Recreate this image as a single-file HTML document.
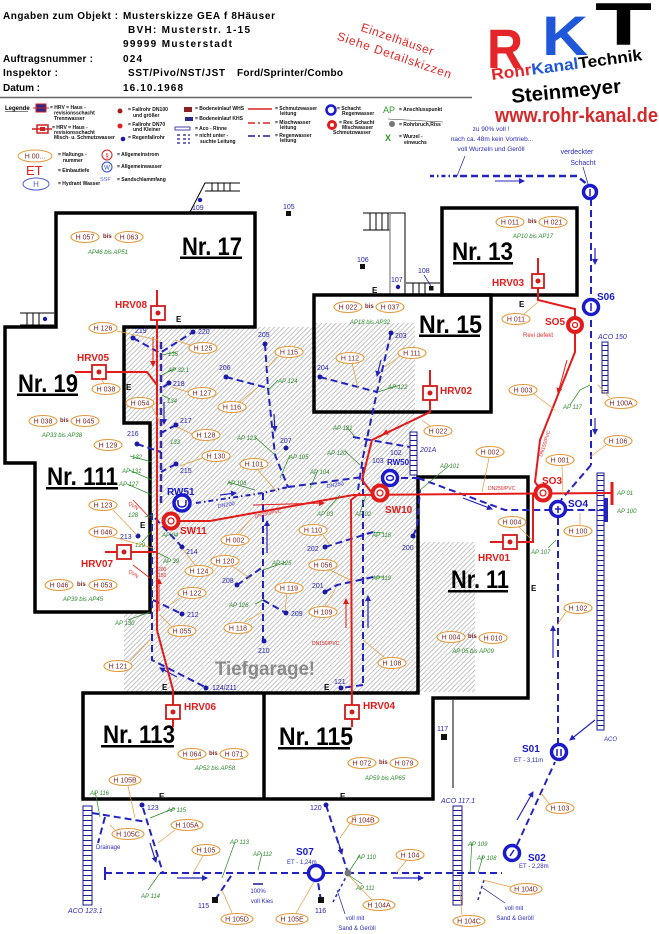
<!DOCTYPE html>
<html><head><meta charset="utf-8">
<style>
html,body{margin:0;padding:0;background:#fff;width:659px;height:934px;overflow:hidden}
svg{display:block}
text{font-family:"Liberation Sans",Arial,sans-serif}
.hd{font-size:10px;font-weight:bold;fill:#000}
.lg{font-size:5px;font-weight:bold;fill:#111}
.he{fill:#fff;stroke:#e39a3a;stroke-width:1.1}
.ht{font-size:7px;fill:#7a1f1f;text-anchor:middle}
.bis{font-size:6px;fill:#7a1f1f;font-weight:bold}
.ap{font-size:6px;fill:#2b8a2b;font-style:italic}
.apc{font-size:6px;fill:#2b8a2b;font-style:italic;text-anchor:middle}
.bn{font-size:7px;fill:#1f1fb5}
.e{font-size:8px;font-weight:bold;fill:#000}
.nr{font-size:25px;font-weight:bold;fill:#000}
.rl{font-size:10px;font-weight:bold;fill:#e21b1b}
.bl{font-size:10px;font-weight:bold;fill:#1a1acc}
.bd{fill:none;stroke:#2323c0;stroke-width:2;stroke-dasharray:7 4}
.rd{fill:none;stroke:#e21b1b;stroke-width:2}
.gl{stroke:#2b8a2b;stroke-width:0.7;fill:none}
.ol{stroke:#e39a3a;stroke-width:0.7;fill:none}
.bt{stroke:#2020a0;stroke-width:0.7;fill:none}
.dot{fill:#1a1aa8}
.bnote{font-size:6.5px;fill:#2a2ac0;text-anchor:middle}
.sm{font-size:5px;fill:#e21b1b}
</style></head><body>
<svg width="659" height="934" viewBox="0 0 659 934" xmlns="http://www.w3.org/2000/svg">
<defs>
<pattern id="hp" patternUnits="userSpaceOnUse" width="3.4" height="3.4" patternTransform="rotate(45)"><rect width="3.4" height="3.4" fill="#fff"/><line x1="0.5" y1="0" x2="0.5" y2="3.4" stroke="#b4b4b4" stroke-width="0.8"/></pattern>
<pattern id="rg" patternUnits="userSpaceOnUse" width="20" height="5"><rect width="20" height="5" fill="#fff"/><line x1="0" y1="0.5" x2="20" y2="0.5" stroke="#1a1a90" stroke-width="1"/></pattern>
<marker id="ab" markerWidth="6" markerHeight="6" refX="5" refY="3" orient="auto" markerUnits="userSpaceOnUse"><path d="M0,0 L6,3 L0,6 z" fill="#2323c0"/></marker>
<marker id="ar" markerWidth="6" markerHeight="6" refX="5" refY="3" orient="auto" markerUnits="userSpaceOnUse"><path d="M0,0 L6,3 L0,6 z" fill="#e21b1b"/></marker>
</defs>
<rect width="659" height="934" fill="#fff"/>

<!-- HEADER -->
<text class="hd" x="3" y="19" textLength="115">Angaben zum Objekt :</text>
<text class="hd" x="123" y="19" textLength="152">Musterskizze GEA f 8Häuser</text>
<text class="hd" x="128" y="33" textLength="122">BVH: Musterstr.  1-15</text>
<text class="hd" x="123" y="47" textLength="109">99999 Musterstadt</text>
<text class="hd" x="3" y="62" textLength="90">Auftragsnummer :</text>
<text class="hd" x="123" y="62" textLength="19">024</text>
<text class="hd" x="3" y="76" textLength="55">Inspektor :</text>
<text class="hd" x="128" y="76" textLength="97">SST/Pivo/NST/JST</text>
<text class="hd" x="237" y="76" textLength="106">Ford/Sprinter/Combo</text>
<text class="hd" x="3" y="91" textLength="37">Datum :</text>
<text class="hd" x="123" y="91" textLength="60">16.10.1968</text>
<line x1="0" y1="97.5" x2="472" y2="97.5" stroke="#666" stroke-width="1.5"/>

<!-- red rotated note -->
<text x="396" y="43" font-size="12" fill="#e02828" text-anchor="middle" textLength="76" transform="rotate(19 396 43)">Einzelhäuser</text>
<text x="393" y="59" font-size="12" fill="#e02828" text-anchor="middle" textLength="120" transform="rotate(19 393 59)">Siehe Detailskizzen</text>

<!-- LOGO -->
<text x="487" y="68" font-size="56" font-weight="bold" fill="#e4252a" textLength="36" lengthAdjust="spacingAndGlyphs">R</text>
<text x="542" y="55" font-size="56" font-weight="bold" fill="#2057d8" textLength="46" lengthAdjust="spacingAndGlyphs">K</text>
<text x="595" y="45" font-size="60" font-weight="bold" fill="#000" textLength="57" lengthAdjust="spacingAndGlyphs">T</text>
<text x="492" y="80" font-size="16" font-weight="bold" textLength="152" lengthAdjust="spacingAndGlyphs" transform="rotate(-7.5 492 80)"><tspan fill="#e4252a">Rohr</tspan><tspan fill="#2057d8">Kanal</tspan><tspan fill="#000">Technik</tspan></text>
<text x="512" y="103" font-size="20" font-weight="bold" fill="#000" textLength="110" lengthAdjust="spacingAndGlyphs" transform="rotate(-5.5 512 103)">Steinmeyer</text>
<text x="495" y="122" font-size="20" font-weight="bold" fill="#d42a2a" textLength="163" lengthAdjust="spacingAndGlyphs">www.rohr-kanal.de</text>

<!-- LEGEND -->
<text x="5" y="110" font-size="6" font-weight="bold">Legende</text>
<line x1="5" y1="111.5" x2="28" y2="111.5" stroke="#000" stroke-width="0.6"/>
<rect x="36" y="104" width="10" height="8" fill="#2a2a8a" stroke="#d02020" stroke-width="1"/>
<line x1="33" y1="108" x2="49" y2="108" stroke="#d02020" stroke-width="1"/>
<text class="lg" x="50" y="109">= HRV = Haus -</text>
<text class="lg" x="54" y="114.5">revisionsschacht</text>
<text class="lg" x="54" y="120">Trennwasser</text>
<rect x="37" y="125" width="11" height="8" fill="#fff" stroke="#d02020" stroke-width="1.5"/>
<rect x="40" y="127" width="5" height="4" fill="#d02020"/>
<line x1="32" y1="129" x2="52" y2="129" stroke="#d02020" stroke-width="1.5"/>
<text class="lg" x="52" y="129">= HRV = Haus -</text>
<text class="lg" x="54" y="134">revisionsschacht</text>
<text class="lg" x="54" y="139">Misch- u. Schmutzwasser</text>
<circle cx="120" cy="111" r="2.5" fill="#a02020"/>
<text class="lg" x="128" y="111">= Fallrohr DN100</text>
<text class="lg" x="133" y="117">und größer</text>
<circle cx="120" cy="126" r="2.5" fill="#e02020"/>
<text class="lg" x="128" y="126">= Fallrohr DN70</text>
<text class="lg" x="133" y="131">und Kleiner</text>
<circle cx="123" cy="139" r="2.3" fill="#1a1aa8"/>
<text class="lg" x="128" y="139">= Regenfallrohr</text>
<rect x="184" y="107" width="8" height="5" fill="#8a2020"/>
<text class="lg" x="195" y="110">= Bodeneinlauf WHS</text>
<rect x="185" y="117" width="8" height="4" fill="#2a2a8a"/>
<text class="lg" x="195" y="120">= Bodeneinlauf KHS</text>
<rect x="175" y="127" width="15" height="3" fill="none" stroke="#1a1a90" stroke-width="0.8"/>
<text class="lg" x="195" y="130">= Aco - Rinne</text>
<path d="M177,135 h3 M183,135 h3 M177,139 h3 M183,139 h3 M177,143 h3 M183,143 h3 M188,135 h2 M188,139 h2 M188,143 h2" stroke="#1a1a90" stroke-width="1.3"/>
<text class="lg" x="195" y="137">= nicht unter -</text>
<text class="lg" x="200" y="143">suchte Leitung</text>
<line x1="248" y1="109" x2="272" y2="109" stroke="#e02020" stroke-width="1.5"/>
<text class="lg" x="275" y="110">= Schmutzwasser</text>
<text class="lg" x="280" y="115">leitung</text>
<line x1="248" y1="123" x2="272" y2="123" stroke="#e02020" stroke-width="1.5" stroke-dasharray="7 3 2 3"/>
<text class="lg" x="275" y="124">= Mischwasser</text>
<text class="lg" x="280" y="129">leitung</text>
<line x1="248" y1="136" x2="272" y2="136" stroke="#1a1a90" stroke-width="1.5" stroke-dasharray="7 3 2 3"/>
<text class="lg" x="275" y="137">= Regenwasser</text>
<text class="lg" x="280" y="142">leitung</text>
<circle cx="331" cy="110" r="4.5" fill="#fff" stroke="#1a1acc" stroke-width="2.5"/>
<text class="lg" x="337" y="110">= Schacht</text>
<text class="lg" x="342" y="115">Regenwasser</text>
<circle cx="332" cy="125" r="5" fill="#e21b1b"/>
<circle cx="332" cy="125" r="2" fill="#fff"/>
<text class="lg" x="339" y="124">= Rev. Schacht</text>
<text class="lg" x="342" y="129">Mischwasser</text>
<text class="lg" x="333" y="134">Schmutzwasser</text>
<text x="383" y="113" font-size="9" fill="#2b9a2b">AP</text>
<text class="lg" x="399" y="111">= Anschlusspunkt</text>
<line x1="388" y1="119" x2="443" y2="122" stroke="#333" stroke-width="0.6"/>
<circle cx="392" cy="124" r="3" fill="#777"/>
<text class="lg" x="399" y="126">= Rohrbruch,Riss</text>
<text x="385" y="141" font-size="9" fill="#2b9a2b" font-weight="bold">X</text>
<text class="lg" x="399" y="138">= Wurzel -</text>
<text class="lg" x="404" y="144">einwuchs</text>

<ellipse cx="35" cy="156" rx="17" ry="6" fill="#fff" stroke="#e39a3a" stroke-width="1"/>
<text x="35" y="158.5" font-size="7" fill="#7a1f1f" text-anchor="middle">H 00...</text>
<text class="lg" x="58" y="156">= Haltungs -</text>
<text class="lg" x="63" y="162">nummer</text>
<text x="26" y="175" font-size="13" fill="#e02020">ET</text>
<text class="lg" x="58" y="172">= Einbautiefe</text>
<ellipse cx="36" cy="184" rx="13" ry="6" fill="#fff" stroke="#5060d0" stroke-width="1"/>
<text x="36" y="187" font-size="8" fill="#5060d0" text-anchor="middle">H</text>
<text class="lg" x="58" y="185">= Hydrant Wasser</text>
<circle cx="107" cy="155" r="5" fill="#fff" stroke="#d02020" stroke-width="1"/>
<text x="107" y="157.5" font-size="6" fill="#d02020" text-anchor="middle">§</text>
<text class="lg" x="117" y="156">= Allgemeinstrom</text>
<circle cx="107" cy="167" r="5" fill="#fff" stroke="#2a4ad0" stroke-width="1"/>
<text x="107" y="169.5" font-size="6" fill="#2a4ad0" text-anchor="middle">W</text>
<text class="lg" x="117" y="168">= Allgemeinwasser</text>
<text x="100" y="181" font-size="5.5" fill="#5a6ad8">SSF</text>
<text class="lg" x="117" y="181">= Sandschlammfang</text>

<!-- top right note -->
<text class="bnote" x="491" y="131">zu 90% voll !</text>
<text class="bnote" x="492" y="141">nach ca. 48m kein Vortrieb...</text>
<text class="bnote" x="491" y="151">voll Wurzeln und Geröll</text>
<text x="577" y="154" font-size="7" fill="#2a2ac0" text-anchor="middle">verdeckter</text>
<text x="583" y="165" font-size="7" fill="#2a2ac0" text-anchor="middle">Schacht</text>
<line x1="465" y1="156" x2="457" y2="176" class="bt"/>
<line x1="583" y1="167" x2="588" y2="184" class="bt"/>
<path d="M430,176 L460,176" stroke="#2323c0" stroke-width="2.5" stroke-dasharray="4 3 1.5 3" fill="none"/>
<path d="M460,176 L577,176 L588,185" stroke="#2323c0" stroke-width="2.5" stroke-dasharray="7 4" fill="none"/>
<line x1="495" y1="181" x2="524" y2="181" stroke="#2323c0" stroke-width="1" marker-end="url(#ab)"/>

<!-- STAIRS -->
<g fill="none" stroke="#000" stroke-width="1">
<path d="M190,212 L205,183 L240,183 M212,183 v8 M218,183 v8 M224,183 v8 M230,183 v8 M205,191 L240,191"/>
<path d="M20,313 L54,313 M20,325 L54,325 M27,313 v12 M33,313 v12 M39,313 v12"/>
<path d="M363,213 L405,213 L405,295 M363,230 L390,230 M370,213 v17 M376,213 v17 M382,213 v17 M388,213 v17"/>
<path d="M406,283 L440,283 M413,283 v12 M419,283 v12 M425,283 v12"/>
</g>
<line x1="390" y1="213" x2="390" y2="295" stroke="#999" stroke-width="1.5"/>
<circle cx="45" cy="319" r="2.2" class="dot"/>
<circle cx="200" cy="200" r="2.2" class="dot"/>
<text class="bn" x="192" y="210">109</text>
<text class="bn" x="283" y="209">105</text>
<rect x="286" y="211" width="5" height="5" fill="#111"/>
<text class="bn" x="357" y="262">106</text>
<rect x="360" y="264" width="5" height="5" fill="#111"/>
<text class="bn" x="391" y="282">107</text>
<circle cx="398" cy="287" r="2.2" class="dot"/>
<text class="bn" x="418" y="273">108</text>
<line x1="424" y1="275" x2="431" y2="286" class="bt"/>
<rect x="429" y="286" width="4.5" height="4.5" fill="#111"/>

<!-- HATCH -->
<path d="M124,327 L314,327 L314,323 L415,323 L415,477 L418,477 L418,692 L124,692 L124,612 L150,612 L150,423 L124,423 Z" fill="url(#hp)"/>
<rect x="419" y="542" width="56" height="150" fill="url(#hp)"/>

<!-- BUILDINGS -->
<g fill="none" stroke="#000" stroke-width="3.5">
<path d="M56,213 L255,213 L255,327 L124,327 L124,423 L150,423 L150,612 L35,612 L35,463 L5,463 L5,327 L56,327 Z"/>
<rect x="442" y="208" width="135" height="87"/>
<rect x="314" y="295" width="177" height="117"/>
<path d="M83,693 L418,693 L418,477 L528,477 L528,698 L433,698 L433,799 L83,799 Z"/>
<line x1="264" y1="693" x2="264" y2="799"/>
</g>
<line x1="453" y1="700" x2="453" y2="788" stroke="#000" stroke-width="1"/>

<!-- Nr texts -->
<text class="nr" x="182" y="255" textLength="60" lengthAdjust="spacingAndGlyphs">Nr. 17</text>
<rect x="180" y="256.5" width="62" height="2.5" fill="#000"/>
<text class="nr" x="18" y="392" textLength="60" lengthAdjust="spacingAndGlyphs">Nr. 19</text>
<rect x="17" y="393.5" width="61" height="2.5" fill="#000"/>
<text class="nr" x="47" y="485" font-size="24" textLength="71" lengthAdjust="spacingAndGlyphs">Nr. 111</text>
<rect x="46" y="487" width="72" height="2.5" fill="#000"/>
<text class="nr" x="452" y="260" textLength="61" lengthAdjust="spacingAndGlyphs">Nr. 13</text>
<rect x="453" y="262" width="60" height="2.5" fill="#000"/>
<text class="nr" x="419" y="333" textLength="63" lengthAdjust="spacingAndGlyphs">Nr. 15</text>
<rect x="419" y="334.5" width="61" height="2.5" fill="#000"/>
<text class="nr" x="451" y="588" font-size="23" textLength="58" lengthAdjust="spacingAndGlyphs">Nr. 11</text>
<rect x="448" y="590" width="60" height="2.5" fill="#000"/>
<text class="nr" x="103" y="743" font-size="23" textLength="72" lengthAdjust="spacingAndGlyphs">Nr. 113</text>
<rect x="101" y="745" width="73" height="2.5" fill="#000"/>
<text class="nr" x="279" y="745" font-size="23" textLength="74" lengthAdjust="spacingAndGlyphs">Nr. 115</text>
<rect x="278" y="747" width="72" height="2.5" fill="#000"/>
<text x="215" y="675" font-size="19" font-weight="bold" fill="#8a8a8a" textLength="100" lengthAdjust="spacingAndGlyphs">Tiefgarage!</text>

<!-- ACO rinnen -->
<g stroke="#1a1a90" stroke-width="1">
<rect x="597" y="473" width="7" height="257" fill="url(#rg)"/>
<rect x="602" y="342" width="6" height="51" fill="url(#rg)"/>
<rect x="410" y="432" width="7" height="43" fill="url(#rg)"/>
<rect x="453" y="806" width="9" height="99" fill="url(#rg)"/>
<rect x="83" y="806" width="9" height="99" fill="url(#rg)"/>
</g>
<text x="598" y="339" font-size="7" fill="#2a2ac0" font-style="italic">ACO 150</text>
<text x="604" y="741" font-size="6" fill="#2a2ac0" font-style="italic">ACO</text>
<text x="420" y="452" font-size="7" fill="#2a2ac0" font-style="italic">201A</text>
<text x="441" y="803" font-size="7" fill="#2a2ac0" font-style="italic">ACO 117.1</text>
<text x="68" y="913" font-size="7" fill="#2a2ac0" font-style="italic">ACO 123.1</text>
<text x="96" y="849" font-size="6" fill="#2a2ac0">Drainage</text>

<!-- BLUE PIPES -->
<g class="bd">
<line x1="591" y1="199" x2="591" y2="465"/>
<path d="M591,465 L561,500"/>
<line x1="558" y1="518" x2="558" y2="743"/>
<path d="M418,478 L505,510 L606,510"/>
<path d="M390,478 L418,478"/>
<line x1="161" y1="342" x2="161" y2="505" stroke="#3a2aa0" stroke-width="2.5"/>
<path d="M133,338 L160,353 L193,332"/>
<path d="M169,383 L161,389 M176,425 L161,433 M137,444 L161,452 M176,464 L161,472"/>
<path d="M265,344 L268,388 L275,455 L288,487 M226,377 L268,388"/>
<path d="M391,333 L377,392 L363,457 L358,490 M320,377 L377,392"/>
<path d="M353,437 L410,447"/>
<path d="M288,487 L363,477"/>
<line x1="363" y1="467" x2="363" y2="685"/>
<path d="M363,685 L341,688"/>
<path d="M325,547 L373,532 M325,592 L337,585 L373,577"/>
<line x1="263" y1="493" x2="263" y2="641"/>
<path d="M237,585 L263,567 M263,600 L286,613"/>
<path d="M152,513 L152,660 L207,688"/>
<path d="M153,600 L182,614 M155,518 L182,547"/>
<path d="M413,536 L417,527 L420,490"/>
<path d="M105,873 L502,873"/>
<path d="M143,808 L163,873 M92,813 L147,822 M105,817 L98,843"/>
<path d="M215,900 L233,873 M321,901 L318,882"/>
<path d="M326,805 L348,873"/>
<path d="M517,845 L555,762"/>
</g>
<path d="M196,503 L263,493 L288,487" stroke="#2323c0" stroke-width="2" stroke-dasharray="5 3 1.5 3" fill="none"/>
<path d="M348,873 L333,902 M484,880 L477,903" stroke="#2323c0" stroke-width="1.5" stroke-dasharray="3 3" fill="none"/>
<line x1="105" y1="867" x2="105" y2="880" stroke="#2323c0" stroke-width="2"/>
<rect x="604" y="498" width="4" height="24" fill="#2323c0"/>
<g stroke="#2323c0" stroke-width="1.2" fill="none" marker-end="url(#ab)">
<line x1="164" y1="402" x2="164" y2="424"/>
<line x1="274" y1="414" x2="275" y2="431"/>
<line x1="381" y1="360" x2="377" y2="376"/>
<line x1="595" y1="248" x2="595" y2="264"/>
<line x1="595" y1="418" x2="595" y2="434"/>
<line x1="463" y1="498" x2="492" y2="509"/>
<line x1="553" y1="658" x2="553" y2="626"/>
<line x1="368" y1="628" x2="368" y2="596"/>
<line x1="267" y1="553" x2="267" y2="521"/>
<line x1="177" y1="677" x2="160" y2="668"/>
<line x1="220" y1="495" x2="236" y2="493"/>
<line x1="150" y1="843" x2="156" y2="862"/>
<line x1="177" y1="878" x2="207" y2="878"/>
<line x1="337" y1="838" x2="342" y2="854"/>
<line x1="393" y1="878" x2="423" y2="878"/>
<line x1="517" y1="820" x2="533" y2="792"/>
<line x1="595" y1="720" x2="570" y2="740"/>
</g>
<text x="218" y="508" font-size="5.5" fill="#2a2ac0" transform="rotate(-10 218 508)">DN200</text>
<text x="327" y="488" font-size="5.5" fill="#2a2ac0" transform="rotate(-10 327 488)">DN250</text>

<!-- RED PIPES -->
<g class="rd">
<path d="M157,290 L157,630 L173,690 L173,727"/>
<path d="M75,372 L147,372 L157,385"/>
<path d="M105,552 L157,552"/>
<path d="M171,521 L210,521 L353,495 L612,493"/>
<path d="M430,370 L430,412 L372,440 L362,480 L372,493"/>
<path d="M538,258 L538,300 L575,309 L575,352 L540,440 L535,482 L543,493"/>
<path d="M490,542 L533,542 L533,493"/>
<path d="M352,727 L351,500 L360,493"/>
</g>
<line x1="612" y1="482" x2="612" y2="505" stroke="#e21b1b" stroke-width="3"/>
<g stroke="#e21b1b" stroke-width="1" fill="none" marker-end="url(#ar)">
<line x1="153" y1="337" x2="153" y2="366"/>
<line x1="567" y1="360" x2="558" y2="393"/>
<line x1="253" y1="505" x2="324" y2="503"/>
<line x1="159" y1="611" x2="159" y2="579"/>
<line x1="346" y1="628" x2="346" y2="599"/>
<line x1="412" y1="421" x2="383" y2="434"/>
</g>
<path d="M133,500 L150,518 M133,565 L150,578" stroke="#e21b1b" stroke-width="0.8" fill="none"/>
<text class="sm" x="255" y="518" transform="rotate(-12 255 518)">DN250/PVC</text>
<text class="sm" x="488" y="490">DN250/PVC</text>
<text class="sm" x="542" y="457" transform="rotate(-72 542 457)">DN150/PVC</text>
<text class="sm" x="312" y="645">DN150/PVC</text>
<text class="sm" x="128" y="504" transform="rotate(35 128 504)">QVN</text>
<text class="sm" x="128" y="572" transform="rotate(35 128 572)">QVN</text>
<text class="sm" x="158" y="571" font-size="4">200</text>
<text class="sm" x="158" y="577" font-size="4">150</text>
<text x="523" y="337" font-size="6" fill="#e03030">Revi defekt</text>

<!-- HRV boxes -->
<g fill="#fff" stroke="#d21b1b" stroke-width="1.8">
<rect x="151" y="306" width="14" height="14"/>
<rect x="92" y="365" width="14" height="14"/>
<rect x="117" y="545" width="14" height="14"/>
<rect x="166" y="705" width="14" height="14"/>
<rect x="345" y="705" width="14" height="14"/>
<rect x="503" y="535" width="14" height="14"/>
<rect x="423" y="386" width="14" height="14"/>
<rect x="532" y="274" width="12" height="14"/>
</g>
<g fill="#d21b1b">
<circle cx="158" cy="313" r="2.5"/><circle cx="99" cy="372" r="2.5"/><circle cx="124" cy="552" r="2.5"/>
<circle cx="173" cy="712" r="2.5"/><circle cx="352" cy="712" r="2.5"/><circle cx="510" cy="542" r="2.5"/>
<circle cx="430" cy="393" r="2.5"/><circle cx="538" cy="281" r="2.5"/>
</g>
<text class="rl" x="115" y="308">HRV08</text>
<text class="rl" x="77" y="361">HRV05</text>
<text class="rl" x="81" y="567">HRV07</text>
<text class="rl" x="184" y="710">HRV06</text>
<text class="rl" x="363" y="709">HRV04</text>
<text class="rl" x="478" y="561">HRV01</text>
<text class="rl" x="440" y="394">HRV02</text>
<text class="rl" x="492" y="286">HRV03</text>

<!-- Manholes -->
<g fill="#fff" stroke="#1a1acc" stroke-width="3.5">
<circle cx="590" cy="192" r="6.5"/>
<circle cx="591" cy="307" r="7.5"/>
<circle cx="182" cy="503" r="8"/>
<circle cx="390" cy="478" r="7.5"/>
<circle cx="558" cy="509" r="7.5"/>
<circle cx="559" cy="752" r="7.5"/>
<circle cx="512" cy="853" r="7.5"/>
<circle cx="316" cy="873" r="7.5"/>
</g>
<g stroke="#1a1acc" stroke-width="1.5" fill="none">
<line x1="590" y1="189" x2="590" y2="196"/>
<line x1="591" y1="303" x2="591" y2="311"/>
<path d="M178,500 v4 a4,3 0 0 0 8,0 v-4"/>
<ellipse cx="390" cy="478" rx="3.5" ry="2.5"/>
<path d="M555,509 h6 M558,506 v7"/>
<path d="M557,749 v7 M561,749 v7"/>
<line x1="510" y1="856" x2="514" y2="850"/>
</g>
<g fill="#fff" stroke="#e21b1b" stroke-width="4">
<circle cx="171" cy="521" r="7.5"/>
<circle cx="380" cy="493" r="7.5"/>
<circle cx="543" cy="493" r="7.5"/>
<circle cx="575" cy="325" r="7"/>
</g>
<g fill="none" stroke="#e21b1b" stroke-width="1.3">
<circle cx="171" cy="521" r="3"/><circle cx="380" cy="493" r="3"/><circle cx="543" cy="493" r="3"/><circle cx="575" cy="325" r="2.5"/>
</g>
<circle cx="348" cy="873" r="3.5" fill="#777"/>
<text class="bl" x="597" y="300">S06</text>
<text class="rl" x="545" y="325">SO5</text>
<text class="rl" x="542" y="484">SO3</text>
<text class="bl" x="568" y="507">SO4</text>
<text class="bl" x="522" y="752">S01</text>
<text class="bl" x="528" y="861">S02</text>
<text class="bl" x="296" y="855">S07</text>
<text class="rl" x="385" y="513">SW10</text>
<text class="rl" x="180" y="534">SW11</text>
<text class="bl" x="167" y="495">RW51</text>
<text x="387" y="465" font-size="8" font-weight="bold" fill="#1a1acc">RW50</text>
<text x="514" y="762" font-size="6" fill="#2a2ac0">ET - 3,11m</text>
<text x="519" y="868" font-size="6" fill="#2a2ac0">ET - 2,28m</text>
<text x="287" y="864" font-size="6" fill="#2a2ac0">ET - 1,24m</text>

<!-- dots & numbers -->
<g class="dot">
<circle cx="133" cy="338" r="2.5"/><circle cx="193" cy="332" r="2.5"/><circle cx="265" cy="344" r="2.5"/>
<circle cx="226" cy="377" r="2.5"/><circle cx="169" cy="383" r="2.5"/><circle cx="176" cy="425" r="2.5"/>
<circle cx="137" cy="444" r="2.5"/><circle cx="176" cy="464" r="2.5"/><circle cx="138" cy="536" r="2.5"/>
<circle cx="182" cy="547" r="2.5"/><circle cx="182" cy="614" r="2.5"/><circle cx="237" cy="585" r="2.5"/>
<circle cx="286" cy="613" r="2.5"/><circle cx="264" cy="641" r="2.5"/><circle cx="325" cy="547" r="2.5"/>
<circle cx="325" cy="592" r="2.5"/><circle cx="341" cy="688" r="2.5"/><circle cx="206" cy="688" r="2.5"/>
<circle cx="413" cy="536" r="2.5"/><circle cx="142" cy="805" r="2.5"/><circle cx="326" cy="805" r="2.5"/>
<circle cx="286" cy="448" r="2.5"/><circle cx="391" cy="333" r="2.5"/><circle cx="320" cy="377" r="2.5"/>
</g>
<rect x="212" y="897" width="6" height="6" fill="#111"/>
<rect x="318" y="897" width="6" height="6" fill="#111"/>
<rect x="441" y="734" width="6" height="6" fill="#111"/>
<text class="bn" x="135" y="333">219</text><text class="bn" x="198" y="334">220</text>
<text class="bn" x="258" y="337">205</text><text class="bn" x="219" y="370">206</text>
<text class="bn" x="173" y="386">218</text><text class="bn" x="180" y="423">217</text>
<text class="bn" x="127" y="436">216</text><text class="bn" x="180" y="473">215</text>
<text class="bn" x="120" y="539">213</text><text class="bn" x="186" y="554">214</text>
<text class="bn" x="187" y="617">212</text><text class="bn" x="222" y="583">208</text>
<text class="bn" x="291" y="616">209</text><text class="bn" x="258" y="653">210</text>
<text class="bn" x="307" y="551">202</text><text class="bn" x="312" y="588">201</text>
<text class="bn" x="334" y="684">121</text><text class="bn" x="212" y="690">124/211</text>
<text class="bn" x="402" y="550">200</text><text class="bn" x="147" y="810">123</text>
<text class="bn" x="310" y="810">120</text><text class="bn" x="198" y="908">115</text>
<text class="bn" x="315" y="913">116</text><text class="bn" x="437" y="731">117</text>
<text class="bn" x="280" y="443">207</text><text class="bn" x="395" y="338">203</text>
<text class="bn" x="317" y="370">204</text>
<text class="bn" x="390" y="455" font-size="6">102</text><text class="bn" x="372" y="463" font-size="6">103</text>

<!-- E labels -->
<text class="e" x="176" y="322">E</text><text class="e" x="126" y="390">E</text>
<text class="e" x="140" y="528">E</text><text class="e" x="372" y="293">E</text>
<text class="e" x="519" y="307">E</text><text class="e" x="531" y="591">E</text>
<text class="e" x="162" y="690">E</text><text class="e" x="324" y="690">E</text>
<text class="e" x="159" y="799">E</text><text class="e" x="340" y="799">E</text>

<!-- H labels -->
<g>
<ellipse class="he" cx="85" cy="237" rx="14" ry="5.5"/><text class="ht" x="85" y="239.5">H 057</text>
<text class="bis" x="103" y="238">bis</text>
<ellipse class="he" cx="129" cy="237" rx="14" ry="5.5"/><text class="ht" x="129" y="239.5">H 063</text>
<ellipse class="he" cx="103" cy="328" rx="14" ry="5.5"/><text class="ht" x="103" y="330.5">H 126</text>
<ellipse class="he" cx="203" cy="348" rx="14" ry="5.5"/><text class="ht" x="203" y="350.5">H 125</text>
<ellipse class="he" cx="106" cy="389" rx="14" ry="5.5"/><text class="ht" x="106" y="391.5">H 038</text>
<ellipse class="he" cx="140" cy="403" rx="14" ry="5.5"/><text class="ht" x="140" y="405.5">H 054</text>
<ellipse class="he" cx="202" cy="393" rx="14" ry="5.5"/><text class="ht" x="202" y="395.5">H 127</text>
<ellipse class="he" cx="232" cy="407" rx="14" ry="5.5"/><text class="ht" x="232" y="409.5">H 116</text>
<ellipse class="he" cx="289" cy="352" rx="14" ry="5.5"/><text class="ht" x="289" y="354.5">H 115</text>
<ellipse class="he" cx="206" cy="435" rx="14" ry="5.5"/><text class="ht" x="206" y="437.5">H 128</text>
<ellipse class="he" cx="43" cy="421" rx="14" ry="5.5"/><text class="ht" x="43" y="423.5">H 038</text>
<text class="bis" x="60" y="422">bis</text>
<ellipse class="he" cx="85" cy="421" rx="14" ry="5.5"/><text class="ht" x="85" y="423.5">H 045</text>
<ellipse class="he" cx="108" cy="445" rx="14" ry="5.5"/><text class="ht" x="108" y="447.5">H 129</text>
<ellipse class="he" cx="216" cy="456" rx="14" ry="5.5"/><text class="ht" x="216" y="458.5">H 130</text>
<ellipse class="he" cx="254" cy="464" rx="14" ry="5.5"/><text class="ht" x="254" y="466.5">H 101</text>
<ellipse class="he" cx="103" cy="505" rx="14" ry="5.5"/><text class="ht" x="103" y="507.5">H 123</text>
<ellipse class="he" cx="103" cy="532" rx="14" ry="5.5"/><text class="ht" x="103" y="534.5">H 046</text>
<ellipse class="he" cx="235" cy="540" rx="14" ry="5.5"/><text class="ht" x="235" y="542.5">H 002</text>
<ellipse class="he" cx="225" cy="561" rx="14" ry="5.5"/><text class="ht" x="225" y="563.5">H 120</text>
<ellipse class="he" cx="199" cy="571" rx="14" ry="5.5"/><text class="ht" x="199" y="573.5">H 124</text>
<ellipse class="he" cx="192" cy="593" rx="14" ry="5.5"/><text class="ht" x="192" y="595.5">H 122</text>
<ellipse class="he" cx="182" cy="631" rx="14" ry="5.5"/><text class="ht" x="182" y="633.5">H 055</text>
<ellipse class="he" cx="238" cy="628" rx="14" ry="5.5"/><text class="ht" x="238" y="630.5">H 118</text>
<ellipse class="he" cx="289" cy="588" rx="14" ry="5.5"/><text class="ht" x="289" y="590.5">H 119</text>
<ellipse class="he" cx="313" cy="530" rx="14" ry="5.5"/><text class="ht" x="313" y="532.5">H 110</text>
<ellipse class="he" cx="323" cy="565" rx="14" ry="5.5"/><text class="ht" x="323" y="567.5">H 056</text>
<ellipse class="he" cx="323" cy="612" rx="14" ry="5.5"/><text class="ht" x="323" y="614.5">H 109</text>
<ellipse class="he" cx="392" cy="663" rx="14" ry="5.5"/><text class="ht" x="392" y="665.5">H 108</text>
<ellipse class="he" cx="118" cy="666" rx="14" ry="5.5"/><text class="ht" x="118" y="668.5">H 121</text>
<ellipse class="he" cx="59" cy="585" rx="14" ry="5.5"/><text class="ht" x="59" y="587.5">H 046</text>
<text class="bis" x="77" y="586">bis</text>
<ellipse class="he" cx="103" cy="585" rx="14" ry="5.5"/><text class="ht" x="103" y="587.5">H 053</text>
<ellipse class="he" cx="350" cy="358" rx="14" ry="5.5"/><text class="ht" x="350" y="360.5">H 112</text>
<ellipse class="he" cx="412" cy="353" rx="14" ry="5.5"/><text class="ht" x="412" y="355.5">H 111</text>
<ellipse class="he" cx="348" cy="307" rx="14" ry="5.5"/><text class="ht" x="348" y="309.5">H 022</text>
<text class="bis" x="365" y="308">bis</text>
<ellipse class="he" cx="390" cy="307" rx="14" ry="5.5"/><text class="ht" x="390" y="309.5">H 037</text>
<ellipse class="he" cx="510" cy="222" rx="14" ry="5.5"/><text class="ht" x="510" y="224.5">H 011</text>
<text class="bis" x="528" y="223">bis</text>
<ellipse class="he" cx="553" cy="222" rx="14" ry="5.5"/><text class="ht" x="553" y="224.5">H 021</text>
<ellipse class="he" cx="516" cy="319" rx="14" ry="5.5"/><text class="ht" x="516" y="321.5">H 011</text>
<ellipse class="he" cx="523" cy="390" rx="14" ry="5.5"/><text class="ht" x="523" y="392.5">H 003</text>
<ellipse class="he" cx="621" cy="403" rx="16" ry="5.5"/><text class="ht" x="621" y="405.5">H 100A</text>
<ellipse class="he" cx="618" cy="441" rx="14" ry="5.5"/><text class="ht" x="618" y="443.5">H 106</text>
<ellipse class="he" cx="438" cy="431" rx="14" ry="5.5"/><text class="ht" x="438" y="433.5">H 022</text>
<ellipse class="he" cx="490" cy="452" rx="14" ry="5.5"/><text class="ht" x="490" y="454.5">H 002</text>
<ellipse class="he" cx="560" cy="460" rx="14" ry="5.5"/><text class="ht" x="560" y="462.5">H 001</text>
<ellipse class="he" cx="512" cy="522" rx="14" ry="5.5"/><text class="ht" x="512" y="524.5">H 004</text>
<ellipse class="he" cx="578" cy="531" rx="14" ry="5.5"/><text class="ht" x="578" y="533.5">H 100</text>
<ellipse class="he" cx="578" cy="608" rx="14" ry="5.5"/><text class="ht" x="578" y="610.5">H 102</text>
<ellipse class="he" cx="451" cy="637" rx="14" ry="5.5"/><text class="ht" x="451" y="639.5">H 004</text>
<text class="bis" x="468" y="638">bis</text>
<ellipse class="he" cx="493" cy="638" rx="14" ry="5.5"/><text class="ht" x="493" y="640.5">H 010</text>
<ellipse class="he" cx="192" cy="754" rx="14" ry="5.5"/><text class="ht" x="192" y="756.5">H 064</text>
<text class="bis" x="209" y="755">bis</text>
<ellipse class="he" cx="234" cy="754" rx="14" ry="5.5"/><text class="ht" x="234" y="756.5">H 071</text>
<ellipse class="he" cx="362" cy="763" rx="14" ry="5.5"/><text class="ht" x="362" y="765.5">H 072</text>
<text class="bis" x="379" y="764">bis</text>
<ellipse class="he" cx="404" cy="763" rx="14" ry="5.5"/><text class="ht" x="404" y="765.5">H 079</text>
<ellipse class="he" cx="125" cy="780" rx="16" ry="5.5"/><text class="ht" x="125" y="782.5">H 105B</text>
<ellipse class="he" cx="128" cy="834" rx="16" ry="5.5"/><text class="ht" x="128" y="836.5">H 105C</text>
<ellipse class="he" cx="187" cy="825" rx="16" ry="5.5"/><text class="ht" x="187" y="827.5">H 105A</text>
<ellipse class="he" cx="206" cy="850" rx="14" ry="5.5"/><text class="ht" x="206" y="852.5">H 105</text>
<ellipse class="he" cx="237" cy="919" rx="16" ry="5.5"/><text class="ht" x="237" y="921.5">H 105D</text>
<ellipse class="he" cx="292" cy="919" rx="16" ry="5.5"/><text class="ht" x="292" y="921.5">H 105E</text>
<ellipse class="he" cx="363" cy="820" rx="16" ry="5.5"/><text class="ht" x="363" y="822.5">H 104B</text>
<ellipse class="he" cx="410" cy="855" rx="14" ry="5.5"/><text class="ht" x="410" y="857.5">H 104</text>
<ellipse class="he" cx="379" cy="905" rx="16" ry="5.5"/><text class="ht" x="379" y="907.5">H 104A</text>
<ellipse class="he" cx="469" cy="921" rx="16" ry="5.5"/><text class="ht" x="469" y="923.5">H 104C</text>
<ellipse class="he" cx="526" cy="889" rx="16" ry="5.5"/><text class="ht" x="526" y="891.5">H 104D</text>
<ellipse class="he" cx="560" cy="808" rx="14" ry="5.5"/><text class="ht" x="560" y="810.5">H 103</text>
</g>

<!-- orange leaders -->
<path class="ol" d="M117,331 L158,340 M190,345 L175,340 M104,383 L100,378 M152,407 L160,423 M188,392 L172,387 M240,402 L258,387 M277,357 L267,368 M192,434 L177,427 M202,458 L180,466 M257,469 L277,492 M113,510 L137,535 M113,537 L153,548 M238,534 L253,517 M232,566 L250,578 M195,565 L183,549 M180,598 L170,605 M172,627 L160,615 M245,622 L262,612 M287,594 L285,610 M323,535 L330,545 M330,570 L350,580 M325,606 L335,590 M385,658 L363,640 M130,661 L150,640 M352,363 L358,388 M400,356 L385,367 M430,426 L422,420 M524,314 L538,302 M534,394 L555,410 M610,398 L598,385 M606,445 L590,457 M489,458 L482,492 M562,466 L563,495 M519,527 L532,540 M580,525 L580,513 M566,612 L557,625 M128,786 L135,818 M115,830 L110,825 M175,830 L158,843 M203,856 L193,873 M232,913 L222,890 M296,913 L314,882 M356,815 L340,838 M406,861 L396,873 M372,900 L349,876 M462,915 L459,880 M511,887 L483,880 M550,805 L541,793"/>

<!-- AP labels -->
<text class="apc" x="108" y="254">AP46 bis AP51</text>
<text class="apc" x="62" y="437">AP33 bis AP38</text>
<text class="apc" x="83" y="601">AP39 bis AP45</text>
<text class="apc" x="370" y="324">AP18 bis AP32</text>
<text class="apc" x="533" y="238">AP10 bis AP17</text>
<text class="apc" x="473" y="653">AP 05 bis AP09</text>
<text class="apc" x="215" y="770">AP52 bis AP58</text>
<text class="apc" x="385" y="780">AP59 bis AP65</text>
<text class="ap" x="168" y="356">135</text>
<text class="ap" x="168" y="372">AP 32.1</text>
<text class="ap" x="167" y="403">134</text>
<text class="ap" x="278" y="383">AP 124</text>
<text class="ap" x="237" y="440">AP 123</text>
<text class="ap" x="170" y="444">133</text>
<text class="ap" x="132" y="459">132</text>
<text class="ap" x="122" y="473">AP 131</text>
<text class="ap" x="119" y="486">AP 127</text>
<text class="ap" x="128" y="517">128</text>
<text class="ap" x="135" y="547">129</text>
<text class="ap" x="162" y="537">AP 04</text>
<text class="ap" x="163" y="563">AP 39</text>
<text class="ap" x="115" y="625">AP 130</text>
<text class="ap" x="289" y="459">AP 105</text>
<text class="ap" x="227" y="485">AP 106</text>
<text class="ap" x="272" y="565">AP 125</text>
<text class="ap" x="229" y="607">AP 126</text>
<text class="ap" x="327" y="455">AP 120</text>
<text class="ap" x="310" y="474">AP 104</text>
<text class="ap" x="333" y="430">AP 121</text>
<text class="ap" x="388" y="389">AP 122</text>
<text class="ap" x="563" y="409">AP 117</text>
<text class="ap" x="440" y="468">AP 101</text>
<text class="ap" x="317" y="516">AP 03</text>
<text class="ap" x="355" y="516">AP 02</text>
<text class="ap" x="372" y="537">AP 118</text>
<text class="ap" x="372" y="580">AP 119</text>
<text class="ap" x="531" y="554">AP 107</text>
<text class="ap" x="617" y="495">AP 01</text>
<text class="ap" x="617" y="513">AP 100</text>
<text class="ap" x="90" y="795">AP 116</text>
<text class="ap" x="167" y="812">AP 115</text>
<text class="ap" x="230" y="844">AP 113</text>
<text class="ap" x="253" y="856">AP 112</text>
<text class="ap" x="141" y="898">AP 114</text>
<text class="ap" x="357" y="859">AP 110</text>
<text class="ap" x="356" y="890">AP 111</text>
<text class="ap" x="468" y="846">AP 109</text>
<text class="ap" x="477" y="860">AP 108</text>
<path class="gl" d="M176,352 L162,355 M176,368 L162,375 M170,399 L162,395 M278,380 L268,390 M255,437 L275,455 M290,455 L280,478 M228,482 L255,490 M286,562 L263,570 M255,604 L263,600 M345,451 L360,465 M318,470 L310,488 M346,426 L355,437 M400,385 L378,392 M570,405 L580,390 L590,385 M450,465 L420,490 M325,512 L340,495 M360,512 L366,496 M384,533 L373,532 M384,577 L373,577 M548,548 L556,540 M95,791 L100,817 M175,808 L150,818 M235,842 L222,878 M262,853 L258,870 M148,890 L160,873 M360,855 L350,870 M362,884 L350,876 M472,842 L470,873 M483,856 L478,873 M127,484 L152,495 M129,470 L152,480 M130,456 L152,462 M145,517 L153,515 M142,542 L153,530 M168,558 L158,553 M128,620 L150,612"/>

<!-- bottom notes -->
<text x="258" y="893" font-size="6" fill="#2a2ac0" text-anchor="middle">100%</text>
<text x="262" y="903" font-size="6" fill="#2a2ac0" text-anchor="middle">voll Kies</text>
<line x1="253" y1="884" x2="263" y2="884" stroke="#1a1a90" stroke-width="1.5"/>
<text x="355" y="920" font-size="6" fill="#2a2ac0" text-anchor="middle">voll mit</text>
<text x="357" y="930" font-size="6" fill="#2a2ac0" text-anchor="middle">Sand &amp; Geröll</text>
<text x="514" y="910" font-size="6" fill="#2a2ac0" text-anchor="middle">voll mit</text>
<text x="515" y="920" font-size="6" fill="#2a2ac0" text-anchor="middle">Sand &amp; Geröll</text>
<path class="bt" d="M345,914 L337,890 M505,903 L483,888"/>
</svg>
</body></html>
